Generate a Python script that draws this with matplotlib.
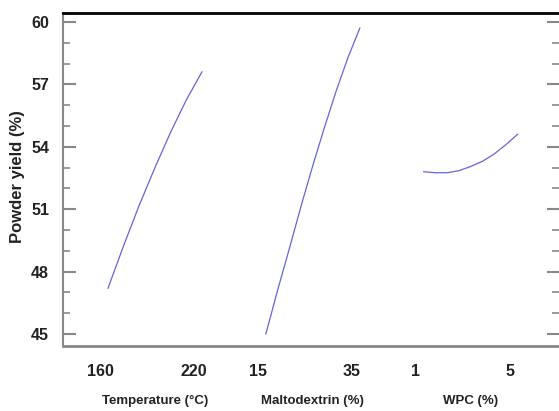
import numpy as np
import matplotlib.pyplot as plt
import matplotlib.transforms as mtransforms
from matplotlib.ticker import MultipleLocator

# Main effects data
temp_x = [160, 170, 180, 190, 200, 210, 220]
temp_y = [47.2, 49.25, 51.2, 53.0, 54.7, 56.25, 57.6]

malto_x = [15, 17.5, 20, 22.5, 25, 27.5, 30, 32.5, 35]
malto_y = [45.0, 47.1, 49.1, 51.15, 53.1, 54.95, 56.7, 58.3, 59.7]

wpc_x = [1, 1.5, 2, 2.5, 3, 3.5, 4, 4.5, 5]
wpc_y = [52.8, 52.75, 52.75, 52.85, 53.05, 53.3, 53.65, 54.1, 54.6]

factor_names = ['Temperature (°C)', 'Maltodextrin (%)', 'WPC (%)']
factor_ranges = [(160, 220), (15, 35), (1, 5)]
y_ticks = [45, 48, 51, 54, 57, 60]

# panel layout: each factor gets width 1, separated by a gap
GAP = 0.68
offsets = [i * (1 + GAP) for i in range(3)]

plt.rcParams['font.family'] = ['Liberation Sans', 'DejaVu Sans']
TXT = '#222222'

fig = plt.figure(figsize=(5.59, 4.11), dpi=100)
ax = fig.add_axes([63 / 559, 1 - 346 / 411, 1 - 63 / 559, (346 - 13) / 411])

series = [(temp_x, temp_y), (malto_x, malto_y), (wpc_x, wpc_y)]
tick_pos, tick_lab = [], []
for (xs, ys), (lo, hi), off, name in zip(series, factor_ranges, offsets, factor_names):
    xs = np.asarray(xs, dtype=float)
    ax.plot(off + (xs - lo) / (hi - lo), ys, color='#6464dc', lw=0.9)
    tick_pos += [off, off + 1]
    tick_lab += [str(lo), str(hi)]
    ax.text(off + 0.5, -0.165, name, transform=ax.get_xaxis_transform(),
            ha='center', va='center', fontsize=9.5, fontweight='bold', color=TXT)

ax.set_xlim(-0.479, 4.80)
ax.set_ylim(44.42, 60.43)

ax.set_xticks(tick_pos)
ax.set_xticklabels(tick_lab, fontsize=11.5, fontweight='bold', color=TXT)
ax.tick_params(axis='x', length=0, pad=13)
shift = mtransforms.ScaledTranslation(-8 / 100, 0, fig.dpi_scale_trans)
for lab in ax.get_xticklabels():
    lab.set_transform(lab.get_transform() + shift)

ax.set_yticks(y_ticks)
ax.yaxis.set_minor_locator(MultipleLocator(1))
ax.tick_params(axis='y', which='major', direction='in', length=9, width=1.5,
               color='#888888', right=True, labelsize=11.5, pad=10, labelcolor=TXT)
ax.tick_params(axis='y', which='minor', direction='in', length=5, width=1.2,
               color='#888888', right=True)
for lab in ax.get_yticklabels():
    lab.set_fontweight('bold')

ax.spines['top'].set_color('black')
ax.spines['top'].set_linewidth(2)
ax.spines['left'].set_color('#888888')
ax.spines['left'].set_linewidth(1.5)
ax.spines['bottom'].set_color('#888888')
ax.spines['bottom'].set_linewidth(2)
ax.spines['right'].set_visible(False)

fig.text(18 / 559, 1 - 177 / 411, 'Powder yield (%)', rotation=90, ha='center', va='center',
         fontsize=12, fontweight='bold', color=TXT)

fig.savefig('out.png', dpi=100)
